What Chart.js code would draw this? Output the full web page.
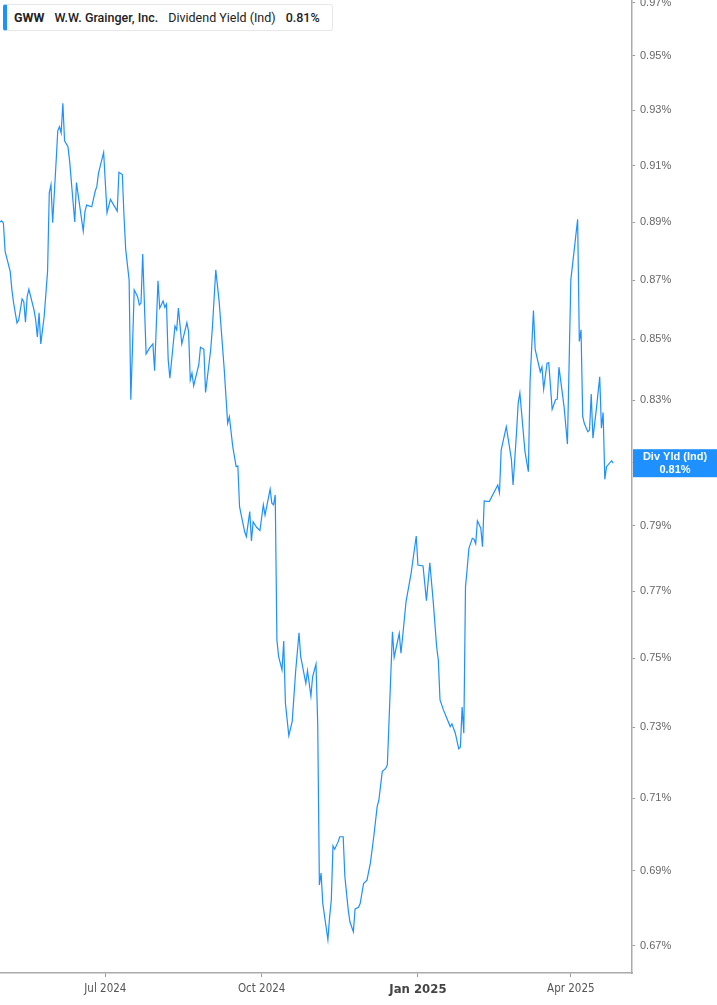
<!DOCTYPE html>
<html>
<head>
<meta charset="utf-8">
<script src="https://cdn.jsdelivr.net/npm/chart.js@4.4.1/dist/chart.umd.min.js"></script>
<style>
  body { margin: 0; background: #fff; }
  #wrap { position: relative; width: 717px; height: 1005px; }
  #legend {
    position: absolute; left: 3px; top: 4px; height: 25px;
    display: flex; align-items: center;
    background: #fff; border: 1px solid #e8e8e8; border-left: 4px solid #1e90ff;
    border-radius: 3px; padding: 0 12px 0 7px;
    font-family: Roboto, Inter, "Noto Sans", sans-serif; font-size: 12.5px; color: #222;
    white-space: nowrap;
  }
  #legend span { margin-right: 10px; }
  #legend span:last-child { margin-right: 0; }
  .b { font-weight: 700; }
  .sb { font-weight: 500; }
</style>
</head>
<body>
<div id="wrap">
  <canvas id="chart"></canvas>
  <div id="legend">
    <span class="b">GWW</span>
    <span class="sb">W.W. Grainger, Inc.</span>
    <span>Dividend Yield (Ind)</span>
    <span class="sb" id="legendValue"></span>
  </div>
</div>
<script>
// calendar days counted from 1 Jul 2024
const days = [
  -62, -61, -60, -59, -56, -55, -54, -52, -51, -49,
  -48, -47, -46, -45, -42, -41, -40, -39, -38, -36,
  -34, -33, -32, -31, -29, -28, -27, -26, -25, -24,
  -22, -21, -18, -17, -15, -13, -12, -11, -8, -6,
  -5, -4, -3, -1, 1, 3, 7, 8, 10, 11,
  12, 14, 15, 16, 17, 19, 20, 21, 22, 24,
  26, 28, 29, 31, 32, 34, 35, 36, 37, 38,
  41, 42, 43, 45, 48, 49, 50, 51, 52, 55,
  56, 58, 59, 62, 63, 65, 67, 70, 72, 73,
  75, 77, 78, 79, 80, 82, 83, 85, 86, 87,
  89, 91, 93, 94, 97, 98, 99, 100, 101, 102,
  104, 105, 106, 108, 110, 112, 114, 115, 118, 119,
  121, 122, 124, 125, 126, 127, 128, 131, 132, 133,
  134, 135, 137, 138, 140, 141, 143, 144, 146, 147,
  149, 150, 152, 154, 156, 158, 160, 161, 163, 165,
  166, 169, 170, 173, 174, 175, 177, 180, 183, 184,
  187, 189, 191, 193, 195, 196, 197, 199, 201, 203,
  204, 206, 208, 209, 210, 211, 212, 213, 214, 216,
  217, 218, 219, 221, 222, 223, 226, 231, 232, 233,
  236, 239, 240, 242, 243, 244, 247, 249, 250, 252,
  253, 256, 257, 258, 260, 261, 263, 265, 266, 267,
  269, 270, 272, 274, 276, 278, 279, 280, 281, 282,
  284, 285, 286, 287, 289, 291, 292, 293, 294, 295,
  298, 299
];

// dividend yield (indicated), percent
const yieldPct = [
  0.8901, 0.8905, 0.8897, 0.8799, 0.8730, 0.8667, 0.8623, 0.8555, 0.8565, 0.8636,
  0.8627, 0.8558, 0.8644, 0.8669, 0.8599, 0.8565, 0.8508, 0.8589, 0.8485, 0.8577,
  0.8730, 0.9003, 0.9032, 0.8898, 0.9111, 0.9225, 0.9240, 0.9217, 0.9325, 0.9189,
  0.9168, 0.9115, 0.8901, 0.9040, 0.8954, 0.8869, 0.8937, 0.8960, 0.8954, 0.9008,
  0.9026, 0.9074, 0.9098, 0.9147, 0.8933, 0.8980, 0.8939, 0.9076, 0.9068, 0.8919,
  0.8805, 0.8701, 0.8301, 0.8476, 0.8667, 0.8644, 0.8616, 0.8622, 0.8790, 0.8452,
  0.8471, 0.8485, 0.8396, 0.8698, 0.8605, 0.8629, 0.8608, 0.8619, 0.8432, 0.8372,
  0.8545, 0.8532, 0.8605, 0.8485, 0.8556, 0.8526, 0.8366, 0.8388, 0.8347, 0.8416,
  0.8474, 0.8467, 0.8325, 0.8465, 0.8538, 0.8735, 0.8627, 0.8399, 0.8225, 0.8246,
  0.8150, 0.8086, 0.8088, 0.7960, 0.7934, 0.7882, 0.7867, 0.7945, 0.7854, 0.7913,
  0.7896, 0.7886, 0.7966, 0.7934, 0.8015, 0.7971, 0.7966, 0.7997, 0.7554, 0.7505,
  0.7466, 0.7551, 0.7369, 0.7276, 0.7317, 0.7461, 0.7576, 0.7505, 0.7427, 0.7464,
  0.7390, 0.7446, 0.7483, 0.7312, 0.6862, 0.6894, 0.6812, 0.6716, 0.6776, 0.6821,
  0.6968, 0.6959, 0.6979, 0.6993, 0.6993, 0.6884, 0.6794, 0.6763, 0.6737, 0.6798,
  0.6802, 0.6812, 0.6866, 0.6875, 0.6921, 0.6993, 0.7076, 0.7094, 0.7174, 0.7183,
  0.7193, 0.7579, 0.7503, 0.7574, 0.7515, 0.7564, 0.7669, 0.7755, 0.7869, 0.7780,
  0.7777, 0.7672, 0.7787, 0.7669, 0.7535, 0.7495, 0.7379, 0.7350, 0.7326, 0.7302,
  0.7310, 0.7283, 0.7239, 0.7244, 0.7358, 0.7283, 0.7714, 0.7770, 0.7831, 0.7862,
  0.7859, 0.7845, 0.7916, 0.7893, 0.7836, 0.7978, 0.7976, 0.8028, 0.8004, 0.8139,
  0.8214, 0.8110, 0.8028, 0.8193, 0.8290, 0.8323, 0.8134, 0.8070, 0.8361, 0.8597,
  0.8467, 0.8393, 0.8409, 0.8336, 0.8421, 0.8423, 0.8270, 0.8301, 0.8303, 0.8408,
  0.8323, 0.8279, 0.8158, 0.8701, 0.8805, 0.8910, 0.8493, 0.8532, 0.8246, 0.8223,
  0.8198, 0.8203, 0.8320, 0.8177, 0.8270, 0.8376, 0.8209, 0.8260, 0.8046, 0.8086,
  0.8105, 0.8097
];

const tickDays = [0, 92, 184, 274];
const tickLabels = ["Jul 2024", "Oct 2024", "Jan 2025", "Apr 2025"];
const yTicks = [0.67, 0.69, 0.71, 0.73, 0.75, 0.77, 0.79, 0.81, 0.83, 0.85, 0.87, 0.89, 0.91, 0.93, 0.95, 0.97];

const lastValue = yieldPct[yieldPct.length - 1];
document.getElementById("legendValue").textContent = lastValue.toFixed(2) + "%";

const canvas = document.getElementById("chart");
canvas.width = 717;
canvas.height = 1005;

const blue = "#1e90ff";
const narrow = "'Liberation Sans Narrow', 'DejaVu Sans Condensed', sans-serif";

const lastLabel = {
  id: "lastLabel",
  afterDraw(chart) {
    const { ctx, chartArea, scales } = chart;
    const py = scales.y.getPixelForValue(lastValue);
    const x0 = chartArea.right + 1;
    const w = chart.width - x0;
    const h = 28;
    ctx.save();
    ctx.fillStyle = blue;
    ctx.fillRect(x0, py - h / 2, w, h);
    ctx.fillStyle = "#fff";
    ctx.font = "bold 11px 'Liberation Sans', Arial, sans-serif";
    ctx.textAlign = "center";
    ctx.textBaseline = "middle";
    ctx.fillText("Div Yld (Ind)", x0 + w / 2, py - 6);
    ctx.fillText(lastValue.toFixed(2) + "%", x0 + w / 2, py + 7);
    ctx.restore();
  }
};

new Chart(canvas, {
  type: "line",
  data: {
    datasets: [
      {
        label: "Dividend Yield (Ind)",
        data: days.map((d, i) => ({ x: d, y: yieldPct[i] })),
        borderColor: blue,
        borderWidth: 1.2,
        pointRadius: 0,
        tension: 0,
        fill: false,
      },
    ],
  },
  options: {
    responsive: false,
    animation: false,
    layout: { padding: 0 },
    plugins: {
      legend: { display: false },
      tooltip: { enabled: false },
    },
    scales: {
      x: {
        type: "linear",
        min: -62,
        max: 310,
        afterBuildTicks: s => { s.ticks = tickDays.map(v => ({ value: v })) },
        afterFit: s => { s.height = 32; s.paddingLeft = 0; s.paddingRight = 0 },
        ticks: {
          autoSkip: false,
          maxRotation: 0,
          padding: 5,
          callback: (v, i) => tickLabels[i],
          color: ctx => ctx.index === 2 ? "#444" : "#555",
          font: ctx => ctx.index === 2
            ? { family: narrow, size: 13, weight: "bold" }
            : { family: narrow, size: 11.5 },
        },
        grid: { drawOnChartArea: false, tickLength: 4, color: "#999" },
        border: { color: "#aaa", width: 1.5 },
      },
      y: {
        type: "logarithmic",
        position: "right",
        min: 0.6629,
        max: 0.9711,
        afterBuildTicks: s => { s.ticks = yTicks.map(v => ({ value: v })) },
        afterFit: s => { s.width = 85; s.paddingTop = 0; s.paddingBottom = 0 },
        ticks: {
          autoSkip: false,
          padding: 5,
          callback: v => Number(v).toFixed(2) + "%",
          color: "#666",
          font: { family: "'Liberation Sans', Arial, sans-serif", size: 11 },
        },
        grid: { drawOnChartArea: false, tickLength: 3, color: "#999" },
        border: { color: "#aaa", width: 1.5 },
      },
    },
  },
  plugins: [lastLabel],
})
</script>
</body>
</html>
